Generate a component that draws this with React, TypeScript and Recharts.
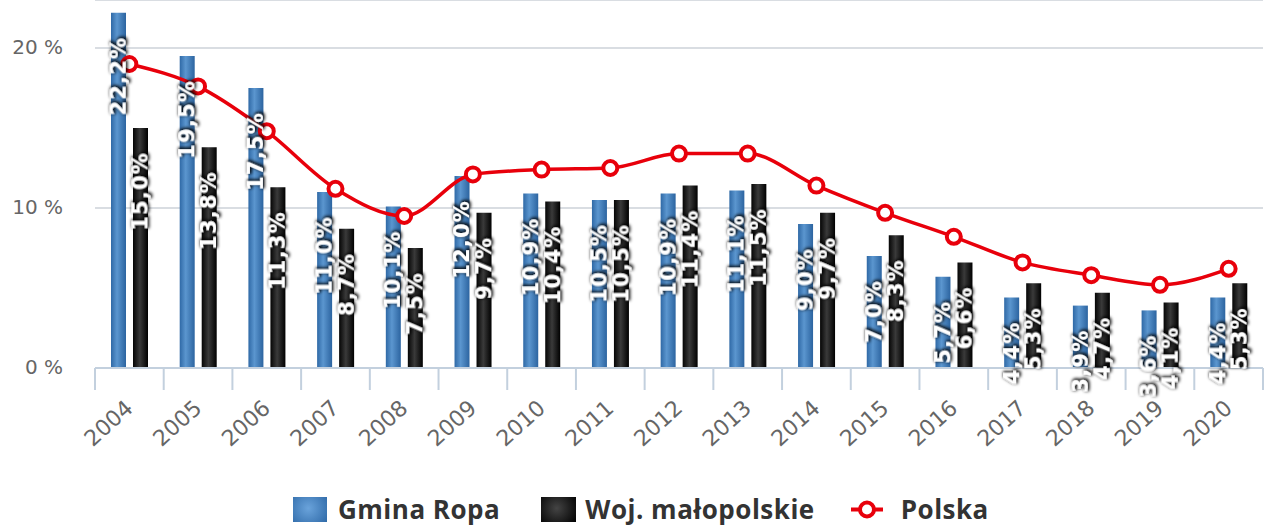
import { FC } from 'react'
import {
  ComposedChart,
  Bar,
  Line,
  XAxis,
  YAxis,
  CartesianGrid,
  LabelList
} from 'recharts'

const years = [
  '2004', '2005', '2006', '2007', '2008', '2009', '2010', '2011', '2012',
  '2013', '2014', '2015', '2016', '2017', '2018', '2019', '2020'
]
const gminaRopa = [22.2, 19.5, 17.5, 11.0, 10.1, 12.0, 10.9, 10.5, 10.9, 11.1, 9.0, 7.0, 5.7, 4.4, 3.9, 3.6, 4.4]
const wojMalopolskie = [15.0, 13.8, 11.3, 8.7, 7.5, 9.7, 10.4, 10.5, 11.4, 11.5, 9.7, 8.3, 6.6, 5.3, 4.7, 4.1, 5.3]
const polska = [19.0, 17.6, 14.8, 11.2, 9.5, 12.1, 12.4, 12.5, 13.4, 13.4, 11.4, 9.7, 8.2, 6.6, 5.8, 5.2, 6.2]
const yTicks = [0, 10, 20]

const data = years.map((year, i) => ({
  year,
  gmina: gminaRopa[i],
  woj: wojMalopolskie[i],
  polska: polska[i]
}))

const W = 1269
const H = 470
const LEFT = 95
const RIGHT = 6
const band = (W - LEFT - RIGHT) / years.length
const axisColor = '#c3d0de'

const fmt = (v: number) => v.toFixed(1).replace('.', ',') + '%'

const BarLabel = (props: any) => {
  const { x, y, width, value } = props
  const cx = x + width / 2
  const ay = y + 24
  return (
    <text
      x={cx}
      y={ay}
      transform={`rotate(-90, ${cx}, ${ay})`}
      textAnchor="end"
      dominantBaseline="central"
      fill="#fff"
      fontFamily="DejaVu Sans"
      fontWeight="bold"
      fontSize={21}
      letterSpacing={1.2}
      filter="url(#lblShadow)"
    >
      {fmt(value)}
    </text>
  )
}

const XTick = (props: any) => {
  const { x, y, payload, index } = props
  const last = index === years.length - 1
  return (
    <g>
      <line x1={x - band / 2} x2={x - band / 2} y1={y} y2={y + 22} stroke={axisColor} strokeWidth={2} />
      {last && <line x1={x + band / 2} x2={x + band / 2} y1={y} y2={y + 22} stroke={axisColor} strokeWidth={2} />}
      <text
        x={x + 5}
        y={y + 42}
        transform={`rotate(-42, ${x + 5}, ${y + 42})`}
        textAnchor="end"
        fill="#666"
        fontFamily="DejaVu Sans"
        fontSize={22}
      >
        {payload.value}
      </text>
    </g>
  )
}

const YTick = (props: any) => {
  const { y, payload } = props
  return (
    <text x={63} y={y} dy="0.3em" textAnchor="end" fill="#666" fontFamily="DejaVu Sans" fontSize={20}>
      {payload.value} %
    </text>
  )
}

const legendText = {
  fontFamily: 'Open Sans',
  fontWeight: 700,
  fontSize: 26,
  letterSpacing: 0.5,
  color: '#333',
  lineHeight: '25px'
}

const App: FC = () => {
  return (
    <div style={{ position: 'absolute', left: 0, top: 0, width: W, height: 528, background: '#fff' }}>
      <ComposedChart
        width={W}
        height={H}
        data={data}
        margin={{ top: 0, right: RIGHT, bottom: 0, left: 0 }}
        barSize={15}
        barGap={7}
      >
        <defs>
          <linearGradient id="gBlue" x1="0" y1="0" x2="1" y2="0">
            <stop offset="0%" stopColor="#2f69a6" />
            <stop offset="40%" stopColor="#5b96cf" />
            <stop offset="100%" stopColor="#2c64a0" />
          </linearGradient>
          <linearGradient id="gBlack" x1="0" y1="0" x2="1" y2="0">
            <stop offset="0%" stopColor="#050505" />
            <stop offset="45%" stopColor="#3a3a3a" />
            <stop offset="100%" stopColor="#000" />
          </linearGradient>
          <filter id="lblShadow" x="-50%" y="-50%" width="200%" height="200%">
            <feMorphology in="SourceAlpha" operator="dilate" radius="1" result="d" />
            <feGaussianBlur in="d" stdDeviation="1.6" result="b" />
            <feOffset in="b" dx="1" dy="1" result="o" />
            <feFlood floodColor="#000" floodOpacity="0.85" />
            <feComposite in2="o" operator="in" result="s" />
            <feMerge>
              <feMergeNode in="s" />
              <feMergeNode in="SourceGraphic" />
            </feMerge>
          </filter>
        </defs>
        <CartesianGrid vertical={false} stroke="#d9dde2" strokeWidth={2} />
        <XAxis
          dataKey="year"
          height={102}
          axisLine={{ stroke: axisColor, strokeWidth: 2 }}
          tickLine={false}
          tickSize={0}
          tickMargin={0}
          interval={0}
          tick={<XTick />}
        />
        <YAxis
          width={LEFT}
          domain={[0, 23]}
          ticks={yTicks}
          axisLine={false}
          tickLine={false}
          tick={<YTick />}
        />
        <Bar dataKey="gmina" name="Gmina Ropa" fill="url(#gBlue)" isAnimationActive={false}>
          <LabelList dataKey="gmina" content={<BarLabel />} />
        </Bar>
        <Bar dataKey="woj" name="Woj. małopolskie" fill="url(#gBlack)" isAnimationActive={false}>
          <LabelList dataKey="woj" content={<BarLabel />} />
        </Bar>
        <Line
          type="monotone"
          dataKey="polska"
          name="Polska"
          stroke="#e8000b"
          strokeWidth={3.5}
          dot={{ r: 7, fill: '#fff', stroke: '#e8000b', strokeWidth: 4 }}
          activeDot={false}
          isAnimationActive={false}
        />
      </ComposedChart>
      <div style={{ position: 'absolute', left: 293, top: 497, display: 'flex', alignItems: 'center' }}>
        <div style={{ width: 34, height: 25, background: 'radial-gradient(circle at 45% 45%, #6aa3db, #2f6aa8)' }} />
        <span style={{ ...legendText, marginLeft: 11 }}>Gmina Ropa</span>
        <div style={{ width: 35, height: 25, marginLeft: 41, background: 'radial-gradient(circle at 45% 45%, #444, #000)' }} />
        <span style={{ ...legendText, marginLeft: 9 }}>Woj. małopolskie</span>
        <svg width={32} height={25} style={{ marginLeft: 36 }}>
          <line x1={0} x2={32} y1={12.5} y2={12.5} stroke="#e8000b" strokeWidth={4} />
          <circle cx={16} cy={12.5} r={7} fill="#fff" stroke="#e8000b" strokeWidth={4} />
        </svg>
        <span style={{ ...legendText, marginLeft: 18 }}>Polska</span>
      </div>
    </div>
  )
}

export default App
